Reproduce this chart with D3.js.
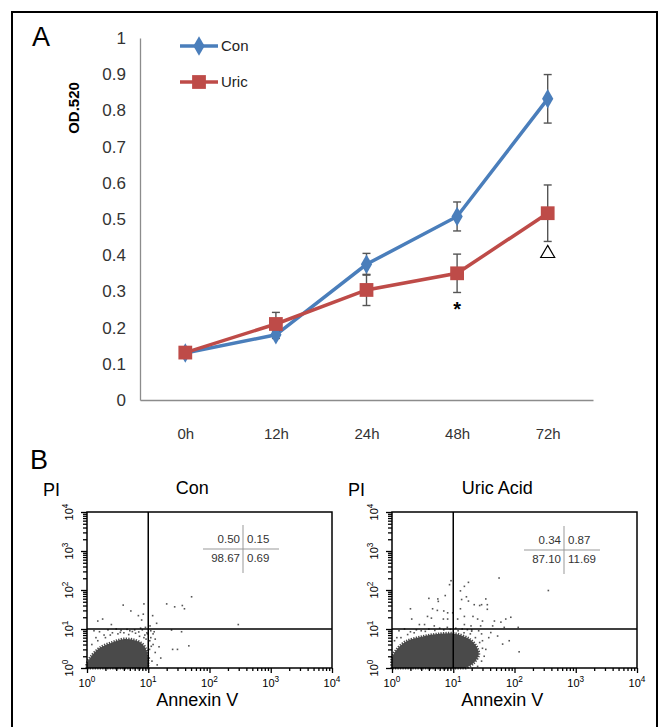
<!DOCTYPE html>
<html>
<head>
<meta charset="utf-8">
<script src="https://cdn.jsdelivr.net/npm/d3@7"></script>
<style>
body { margin: 0; background: #fff; }
svg { display: block; }
</style>
</head>
<body>
<svg id="chart" width="662" height="727"></svg>
<script>
// ---- panel A data ----
var timeLabels = ["0h", "12h", "24h", "48h", "72h"];
var conMean = [0.13, 0.18, 0.375, 0.507, 0.832];
var conErr = [0.01, 0.01, 0.03, 0.04, 0.067];
var uricMean = [0.131, 0.21, 0.304, 0.35, 0.516];
var uricErr = [0.015, 0.032, 0.043, 0.053, 0.078];
var yTicks = [0, 0.1, 0.2, 0.3, 0.4, 0.5, 0.6, 0.7, 0.8, 0.9, 1];
var seriesNames = ["Con", "Uric"];

// ---- panel B data (Annexin V, PI) ----
var flowTitles = ["Con", "Uric Acid"];
var conQuad = ["0.50", "0.15", "98.67", "0.69"];
var uricQuad = ["0.34", "0.87", "87.10", "11.69"];
var logTicks = [1, 10, 100, 1000, 10000];
// dense cell population outlines
var conCloud = [[1.0,1.0],[1.0,1.3],[1.15,1.9],[1.63,3.3],[2.66,4.6],[3.87,5.5],[5.6,5.3],[7.9,4.2],[9.5,2.6],[9.9,1.0]];
var uricCloud = [[1.0,1.0],[1.0,1.8],[1.2,3.0],[1.7,4.8],[3.2,6.4],[6.0,7.5],[10.5,7.6],[18,5.6],[24,3.5],[26,2.2],[21,1.3],[16,1.0]];
// scattered events
var conDots = [[3.9,41],[5.2,29],[8.5,44],[8.3,24],[6.9,22],[7.8,17],[11.8,22],[13.7,14],[10.7,12],[20,44],[27,37],[36,40],[39,33],[51,67],[295,13],
  [1.5,16],[1.8,18],[2.5,13],[24,9.4],[35,8.5],[25,3.0],[30,3.0],[46,3.7],
  [11,6],[12,4],[13,2.5],[11.5,1.5],[14,1.2],[12,7.5],[10.5,3],[15,3.5],[13,5.5],[16,1.8],[11,9],[12.5,8.5],
  [1.3,9],[1.6,8.5],[2.2,9.5],[3,10],[4.5,9.8],[6,9.5],[7.5,10.5],[9,11],[9.5,8],[8.8,7],[2.6,8],[3.5,8.2],[5.5,8.6],[7,8.4],[1.4,6],[1.9,7],
  [1.2,4],[1.5,5],[2,6],[2.4,7],[3.2,7.5],[4,8],[4.8,7.2],[6.2,7.8],[7.2,6.5],[8.5,6],[9.2,5.5],[9.7,7.5],[8,9.5],[5,9],[3.6,9.2],[10.6,5],[11.2,3.6],[10.4,1.8]];
var uricDots = [[9.2,173],[8.7,137],[17.7,157],[15.2,124],[13.1,95],[56,203],[357,97],[4.0,61],[5.6,59],[5.7,51],[7.4,72],[13.7,57],[16.4,67],[17.7,52],
  [22,42],[27,40],[29,42],[34,59],[36,42],[36,32],[2.0,33],[4.6,33],[5.5,30],[7.0,29],[8.1,26],[9.8,26],[13.1,33],[2.1,18],[3.8,21],[4.4,19],
  [6.9,18],[8.1,18],[11.8,18],[15.2,21],[21,21],[25,18],[30,16],[47,16],[60,15],[72,18],[87,20],[115,11],[68,11],[44,12],[2.8,13],[3.4,13],
  [4.9,12],[15.2,13],[19.5,12],[28,12],[64,4.1],[82,5.0],[119,2.6],[53,6.6],[41,8.1],
  [30,5],[34,3],[38,6],[29,7.5],[32,2],[26,9],[20,9.5],[14,10],[1.3,9],[1.6,10],[2.5,9.5],[4,10],[6,10.5],[8,11],[11,10.5],[1.2,6],[2,8.5],[3,9],
  [1.1,5],[1.4,6],[1.8,7.2],[2.3,8],[3.5,8.7],[5,9.2],[7,9.5],[9,9.8],[12,9],[15,8],[19,7.5],[23,6],[27,4.5],[30,3.2],[29,1.5],[25,1.1],[20,8.8],[17,9.6]];

var svg = d3.select("#chart");
var font = "Liberation Sans, Arial, sans-serif";

// outer frame
svg.append("rect").attr("x", 12).attr("y", 12).attr("width", 645).attr("height", 740)
  .attr("fill", "none").attr("stroke", "#000").attr("stroke-width", 2);

svg.append("text").attr("x", 32).attr("y", 46).attr("font-family", font).attr("font-size", 27).text("A");
svg.append("text").attr("x", 30).attr("y", 469).attr("font-family", font).attr("font-size", 27).text("B");

// ================= panel A =================
var x = d3.scalePoint().domain(timeLabels).range([140, 593]).padding(0.5);
var y = d3.scaleLinear().domain([0, 1]).range([400, 38]);
var gA = svg.append("g");

var yAxis = gA.append("g").attr("transform", "translate(140,0)")
  .call(d3.axisLeft(y).tickValues(yTicks).tickSize(0).tickPadding(14).tickFormat(function(d){ return String(+d.toFixed(1)); }));
var xAxis = gA.append("g").attr("transform", "translate(0,400)")
  .call(d3.axisBottom(x).tickSize(0).tickPadding(28));
[yAxis, xAxis].forEach(function(a){
  a.select(".domain").attr("stroke", "#8c8c8c").attr("stroke-width", 1.3);
  a.selectAll("text").attr("font-family", font).attr("fill", "#333");
});
yAxis.selectAll("text").attr("font-size", 17);
xAxis.selectAll("text").attr("font-size", 15);

gA.append("text").attr("transform", "translate(79,108) rotate(-90)")
  .attr("text-anchor", "middle").attr("font-family", font).attr("font-weight", "bold")
  .attr("font-size", 15).text("OD.520");

var colors = ["#4a7ebb", "#be4b48"];
var series = [
  { name: seriesNames[0], mean: conMean, err: conErr, color: colors[0], marker: d3.symbolDiamond, size: 110 },
  { name: seriesNames[1], mean: uricMean, err: uricErr, color: colors[1], marker: d3.symbolSquare, size: 190 }
];
var line = d3.line().x(function(d, i){ return x(timeLabels[i]); }).y(function(d){ return y(d); });

series.forEach(function(s){
  gA.append("path").datum(s.mean).attr("d", line).attr("fill", "none")
    .attr("stroke", s.color).attr("stroke-width", 3.5);
});
// error bars
series.forEach(function(s){
  var eb = gA.append("g").attr("stroke", "#555").attr("stroke-width", 1.4);
  s.mean.forEach(function(m, i){
    var cx = x(timeLabels[i]);
    eb.append("line").attr("x1", cx).attr("x2", cx).attr("y1", y(m + s.err[i])).attr("y2", y(m - s.err[i]));
    [m + s.err[i], m - s.err[i]].forEach(function(v){
      eb.append("line").attr("x1", cx - 4).attr("x2", cx + 4).attr("y1", y(v)).attr("y2", y(v));
    });
  });
});
series.forEach(function(s){
  gA.selectAll(null).data(s.mean).enter().append("path")
    .attr("transform", function(d, i){ return "translate(" + x(timeLabels[i]) + "," + y(d) + ")"; })
    .attr("d", d3.symbol().type(s.marker).size(s.size)).attr("fill", s.color);
});

// significance marks
gA.append("text").attr("x", x("48h")).attr("y", y(uricMean[3] - uricErr[3]) + 24)
  .attr("text-anchor", "middle").attr("font-family", font).attr("font-weight", "bold").attr("font-size", 20).text("*");
gA.append("path").attr("transform", "translate(" + x("72h") + "," + (y(uricMean[4] - uricErr[4]) + 12) + ")")
  .attr("d", d3.symbol().type(d3.symbolTriangle).size(85)).attr("fill", "#fff").attr("stroke", "#000").attr("stroke-width", 1.2);

// legend
series.forEach(function(s, i){
  var ly = 46 + i * 36;
  gA.append("line").attr("x1", 180).attr("x2", 218).attr("y1", ly).attr("y2", ly)
    .attr("stroke", s.color).attr("stroke-width", 3.5);
  gA.append("path").attr("transform", "translate(199," + ly + ")")
    .attr("d", d3.symbol().type(s.marker).size(s.size)).attr("fill", s.color);
  gA.append("text").attr("x", 221).attr("y", ly + 5).attr("font-family", font).attr("font-size", 15)
    .attr("fill", "#222").text(s.name);
});

// ================= panel B =================
function sup(sel, v){
  sel.text("10");
  sel.append("tspan").attr("dy", "-0.55em").attr("font-size", "0.75em").text(Math.round(Math.log10(v)));
}

function flowPanel(left, title, cloud, dots, quad, qx, qy) {
  var w = 245, h = 156, top = 512;
  var g = svg.append("g").attr("transform", "translate(" + left + "," + top + ")");
  var xs = d3.scaleLog().domain([1, 1e4]).range([0, w]);
  var ys = d3.scaleLog().domain([1, 1e4]).range([h, 0]);
  var minor = xs.ticks().filter(function(v){ return logTicks.indexOf(v) < 0; });

  // population
  var area = d3.line().x(function(d){ return xs(d[0]); }).y(function(d){ return ys(d[1]); }).curve(d3.curveCatmullRom);
  g.append("path").attr("d", area(cloud) + "Z").attr("fill", "#4a4a4a")
    .attr("stroke", "#4a4a4a").attr("stroke-width", 3).attr("stroke-dasharray", "1.3,1.2");
  g.selectAll(null).data(dots).enter().append("rect")
    .attr("x", function(d){ return xs(d[0]) - 0.8; }).attr("y", function(d){ return ys(d[1]) - 0.8; })
    .attr("width", 1.6).attr("height", 1.6).attr("fill", "#555");

  // axes
  var bx = g.append("g").attr("transform", "translate(0," + h + ")");
  bx.append("g").call(d3.axisBottom(xs).tickValues(minor).tickSize(3).tickFormat(""));
  bx.append("g").call(d3.axisBottom(xs).tickValues(logTicks).tickSize(5).tickFormat(""));
  var ly = g.append("g");
  ly.append("g").call(d3.axisLeft(ys).tickValues(minor).tickSize(4).tickFormat(""));
  ly.append("g").call(d3.axisLeft(ys).tickValues(logTicks).tickSize(6).tickFormat(""));
  g.selectAll(".domain").remove();
  g.selectAll(".tick line").attr("stroke", "#000").attr("stroke-width", 1.3);

  logTicks.forEach(function(v){
    g.append("text").attr("x", xs(v)).attr("y", h + 19).attr("text-anchor", "middle")
      .attr("font-family", font).attr("font-size", 11).call(sup, v);
    g.append("text").attr("transform", "translate(-14," + ys(v) + ") rotate(-90)")
      .attr("text-anchor", "middle").attr("font-family", font).attr("font-size", 11).call(sup, v);
  });

  g.append("rect").attr("width", w).attr("height", h).attr("fill", "none")
    .attr("stroke", "#000").attr("stroke-width", 1.5);
  g.append("line").attr("x1", xs(10)).attr("x2", xs(10)).attr("y1", 0).attr("y2", h).attr("stroke", "#000").attr("stroke-width", 1.5);
  g.append("line").attr("x1", 0).attr("x2", w).attr("y1", ys(10)).attr("y2", ys(10)).attr("stroke", "#000").attr("stroke-width", 1.5);

  // quadrant statistics
  var q = g.append("g").attr("transform", "translate(" + qx + "," + qy + ")");
  q.append("line").attr("x1", 0).attr("x2", 0).attr("y1", -24).attr("y2", 24).attr("stroke", "#999");
  q.append("line").attr("x1", -40).attr("x2", 36).attr("y1", 0).attr("y2", 0).attr("stroke", "#999");
  [[quad[0], -3, -6, "end"], [quad[1], 4, -6, "start"], [quad[2], -3, 13, "end"], [quad[3], 4, 13, "start"]].forEach(function(t){
    q.append("text").attr("x", t[1]).attr("y", t[2]).attr("text-anchor", t[3])
      .attr("font-family", font).attr("font-size", 11.5).attr("fill", "#333").text(t[0]);
  });

  g.append("text").attr("x", w * 0.43).attr("y", -18).attr("text-anchor", "middle")
    .attr("font-family", font).attr("font-size", 18).text(title);
  g.append("text").attr("x", -44).attr("y", -16).attr("font-family", font).attr("font-size", 18).text("PI");
  g.append("text").attr("x", w * 0.45).attr("y", h + 38).attr("text-anchor", "middle")
    .attr("font-family", font).attr("font-size", 18).text("Annexin V");
}

flowPanel(87, flowTitles[0], conCloud, conDots, conQuad, 156, 37);
flowPanel(392, flowTitles[1], uricCloud, uricDots, uricQuad, 172, 38);
</script>
</body>
</html>
